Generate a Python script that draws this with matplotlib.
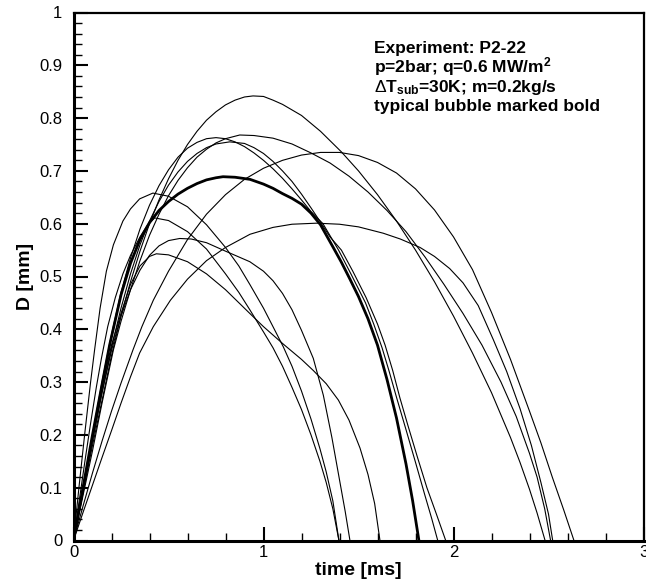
import matplotlib
matplotlib.use('Agg')
import matplotlib.pyplot as plt
from matplotlib.ticker import MultipleLocator

plt.rcParams['font.family'] = ['Liberation Sans', 'DejaVu Sans']
plt.rcParams['mathtext.fontset'] = 'custom'
plt.rcParams['mathtext.rm'] = 'Liberation Sans'
plt.rcParams['mathtext.bf'] = 'Liberation Sans:bold'
plt.rcParams['mathtext.it'] = 'Liberation Sans:italic'

# bubble diameter histories (time in ms, D in mm)
t_a = [0, 0.05, 0.1, 0.15, 0.2, 0.25, 0.3, 0.35, 0.4, 0.45, 0.5, 0.55, 0.6, 0.65, 0.7, 0.75, 0.8, 0.85, 0.9,
       0.945, 1.0, 1.05, 1.1, 1.2, 1.3, 1.41, 1.5, 1.6, 1.7, 1.8, 1.9, 2.0, 2.1, 2.2, 2.3, 2.35, 2.4, 2.44, 2.482]
d_a = [0, 0.09, 0.18, 0.265, 0.35, 0.425, 0.49, 0.548, 0.6, 0.645, 0.685, 0.72, 0.75, 0.775, 0.796, 0.812, 0.825,
       0.834, 0.84, 0.842, 0.841, 0.834, 0.826, 0.805, 0.775, 0.736, 0.70, 0.655, 0.605, 0.55, 0.49, 0.425, 0.355,
       0.28, 0.195, 0.148, 0.097, 0.052, 0]

t_b = [0, 0.05, 0.1, 0.15, 0.21, 0.25, 0.3, 0.35, 0.4, 0.45, 0.5, 0.55, 0.6, 0.65, 0.7, 0.75, 0.8, 0.875, 0.95,
       1.05, 1.15, 1.25, 1.35, 1.45, 1.55, 1.65, 1.75, 1.85, 1.95, 2.05, 2.15, 2.25, 2.33, 2.4, 2.44, 2.48, 2.511]
d_b = [0, 0.085, 0.17, 0.26, 0.361, 0.415, 0.475, 0.53, 0.578, 0.618, 0.653, 0.682, 0.706, 0.726, 0.741, 0.753,
       0.761, 0.768, 0.767, 0.762, 0.751, 0.734, 0.715, 0.69, 0.66, 0.625, 0.585, 0.537, 0.485, 0.43, 0.37, 0.3,
       0.235, 0.165, 0.12, 0.06, 0]

t_c = [0, 0.05, 0.1, 0.15, 0.2, 0.25, 0.3, 0.35, 0.4, 0.45, 0.5, 0.55, 0.6, 0.65, 0.7, 0.75, 0.8, 0.85, 0.9, 0.95,
       1.0, 1.05, 1.1, 1.15, 1.2, 1.25, 1.313, 1.395, 1.46, 1.537, 1.58, 1.624, 1.66, 1.701, 1.75, 1.8, 1.85,
       1.885, 1.917]
d_c = [0, 0.1, 0.2, 0.3, 0.39, 0.47, 0.535, 0.59, 0.635, 0.672, 0.702, 0.726, 0.743, 0.754, 0.761, 0.763, 0.761,
       0.755, 0.746, 0.734, 0.72, 0.704, 0.686, 0.666, 0.645, 0.623, 0.6, 0.55, 0.505, 0.45, 0.41, 0.365, 0.322,
       0.27, 0.21, 0.148, 0.085, 0.042, 0]

t_d = [0, 0.05, 0.1, 0.15, 0.2, 0.25, 0.3, 0.35, 0.4, 0.45, 0.5, 0.55, 0.6, 0.65, 0.7, 0.75, 0.822, 0.9, 0.95, 1.0,
       1.05, 1.1, 1.15, 1.2, 1.25, 1.3, 1.35, 1.41, 1.47, 1.54, 1.6, 1.64, 1.68, 1.718, 1.76, 1.81, 1.86, 1.91, 1.959]
d_d = [0, 0.095, 0.19, 0.28, 0.365, 0.44, 0.505, 0.56, 0.605, 0.642, 0.673, 0.698, 0.718, 0.733, 0.744, 0.751,
       0.755, 0.752, 0.744, 0.733, 0.718, 0.70, 0.68, 0.656, 0.63, 0.603, 0.575, 0.55, 0.51, 0.46, 0.41, 0.37,
       0.322, 0.27, 0.218, 0.158, 0.1, 0.05, 0]

t_e = [0, 0.05, 0.1, 0.15, 0.2, 0.25, 0.313, 0.36, 0.42, 0.5, 0.6, 0.7, 0.8, 0.9, 1.0, 1.1, 1.2, 1.3, 1.4, 1.5,
       1.6, 1.7, 1.8, 1.9, 2.0, 2.1, 2.2, 2.3, 2.4, 2.46, 2.52, 2.58, 2.634]
d_e = [0, 0.065, 0.128, 0.188, 0.245, 0.298, 0.361, 0.405, 0.455, 0.51, 0.57, 0.618, 0.655, 0.684, 0.705, 0.72,
       0.73, 0.735, 0.735, 0.729, 0.716, 0.696, 0.666, 0.626, 0.575, 0.513, 0.432, 0.343, 0.245, 0.185, 0.12,
       0.058, 0]

t_i = [0, 0.05, 0.1, 0.15, 0.2, 0.25, 0.3, 0.348, 0.42, 0.51, 0.6, 0.7, 0.8, 0.929, 1.05, 1.15, 1.28, 1.4, 1.5,
       1.63, 1.72, 1.824, 1.9, 1.98, 2.05, 2.13, 2.21, 2.28, 2.35, 2.41, 2.46, 2.5, 2.522]
d_i = [0, 0.053, 0.105, 0.157, 0.208, 0.26, 0.31, 0.355, 0.405, 0.455, 0.495, 0.53, 0.555, 0.58, 0.593, 0.599,
       0.601, 0.599, 0.594, 0.582, 0.571, 0.555, 0.538, 0.515, 0.488, 0.445, 0.38, 0.32, 0.25, 0.18, 0.11, 0.05, 0]

t_g = [0, 0.03, 0.06, 0.09, 0.111, 0.14, 0.173, 0.21, 0.26, 0.3, 0.348, 0.418, 0.5, 0.6, 0.7, 0.8, 0.87, 0.928,
       1.0, 1.05, 1.104, 1.15, 1.2, 1.25, 1.297, 1.33, 1.365, 1.397]
d_g = [0, 0.105, 0.205, 0.3, 0.361, 0.44, 0.51, 0.56, 0.605, 0.628, 0.647, 0.658, 0.652, 0.632, 0.598, 0.555,
       0.52, 0.485, 0.44, 0.405, 0.367, 0.33, 0.283, 0.23, 0.174, 0.13, 0.075, 0]

t_h = [0, 0.03, 0.06, 0.09, 0.12, 0.147, 0.18, 0.22, 0.26, 0.3, 0.35, 0.39, 0.427, 0.5, 0.6, 0.7, 0.8, 0.87,
       0.928, 1.0, 1.05, 1.1, 1.15, 1.2, 1.25, 1.297, 1.33, 1.365, 1.397]
d_h = [0, 0.075, 0.15, 0.222, 0.29, 0.345, 0.405, 0.46, 0.505, 0.54, 0.575, 0.598, 0.611, 0.606, 0.585, 0.552,
       0.505, 0.47, 0.437, 0.395, 0.365, 0.33, 0.29, 0.248, 0.2, 0.15, 0.11, 0.06, 0]

t_j = [0, 0.05, 0.1, 0.15, 0.2, 0.25, 0.3, 0.35, 0.4, 0.45, 0.5, 0.559, 0.62, 0.7, 0.8, 0.928, 1.0, 1.05, 1.1,
       1.15, 1.2, 1.262, 1.315, 1.36, 1.4, 1.43, 1.455]
d_j = [0, 0.095, 0.19, 0.28, 0.36, 0.425, 0.475, 0.512, 0.54, 0.558, 0.568, 0.572, 0.571, 0.564, 0.548, 0.528,
       0.51, 0.492, 0.468, 0.437, 0.398, 0.345, 0.275, 0.195, 0.115, 0.055, 0]

t_k = [0, 0.05, 0.1, 0.15, 0.2, 0.25, 0.3, 0.35, 0.4, 0.436, 0.5, 0.6, 0.7, 0.8, 0.928, 1.0, 1.104, 1.2, 1.262,
       1.33, 1.394, 1.45, 1.508, 1.55, 1.585, 1.613]
d_k = [0, 0.1, 0.2, 0.29, 0.37, 0.43, 0.485, 0.52, 0.538, 0.543, 0.541, 0.528, 0.505, 0.475, 0.43, 0.405, 0.372,
       0.343, 0.322, 0.297, 0.266, 0.228, 0.175, 0.125, 0.07, 0]

# the typical bubble, drawn bold
t_bold = [0, 0.05, 0.1, 0.15, 0.19, 0.25, 0.3, 0.35, 0.4, 0.45, 0.5, 0.55, 0.6, 0.65, 0.7, 0.75, 0.787, 0.85,
          0.929, 1.0, 1.05, 1.1, 1.15, 1.2, 1.25, 1.3, 1.367, 1.41, 1.455, 1.5, 1.55, 1.6, 1.65, 1.7, 1.75,
          1.785, 1.818]
d_bold = [0, 0.1, 0.2, 0.295, 0.37, 0.465, 0.525, 0.57, 0.602, 0.625, 0.642, 0.656, 0.667, 0.676, 0.683, 0.687,
          0.689, 0.688, 0.684, 0.675, 0.667, 0.657, 0.648, 0.637, 0.62, 0.598, 0.555, 0.527, 0.495, 0.462, 0.42,
          0.37, 0.305, 0.232, 0.145, 0.075, 0]

thin_curves = [(t_a, d_a), (t_b, d_b), (t_c, d_c), (t_d, d_d), (t_e, d_e),
               (t_i, d_i), (t_g, d_g), (t_h, d_h), (t_j, d_j), (t_k, d_k)]

info_lines = ['Experiment: P2-22',
              r'p=2bar; q=0.6 MW/m$^{\mathbf{2}}$',
              r'$\Delta$T$_{\mathbf{sub}}$=30K; m=0.2kg/s',
              'typical bubble marked bold']

fig = plt.figure(figsize=(6.46, 5.88), dpi=100)
ax = fig.add_axes([73.5 / 646, 47.5 / 588, 570 / 646, 528 / 588])

for t, d in thin_curves:
    ax.plot(t, d, color='black', lw=0.8, solid_joinstyle='round')
ax.plot(t_bold, d_bold, color='black', lw=2.0, solid_joinstyle='round')

ax.set_xlim(0, 3)
ax.set_ylim(0, 1)
ax.xaxis.set_minor_locator(MultipleLocator(0.2))
ax.yaxis.set_minor_locator(MultipleLocator(0.02))
ax.set_yticks([0, 0.1, 0.2, 0.3, 0.4, 0.5, 0.6, 0.7, 0.8, 0.9, 1.0])
ax.set_yticklabels(['0', '0.1', '0.2', '0.3', '0.4', '0.5', '0.6', '0.7', '0.8', '0.9', '1'])
ax.set_xticks([0, 1, 2, 3])
ax.set_xticklabels(['0', '1', '2', '3'])

ax.tick_params(which='both', direction='in', top=False, right=False, labelsize=12)
ax.tick_params(which='major', length=10, width=1.5)
ax.tick_params(which='minor', length=6, width=1.0)
ax.tick_params(axis='x', pad=3)
ax.tick_params(axis='y', pad=8)

ax.spines['left'].set_linewidth(2.2)
ax.spines['bottom'].set_linewidth(2.2)
ax.spines['top'].set_linewidth(1.6)
ax.spines['right'].set_linewidth(1.6)

ax.set_xlabel('time [ms]', fontsize=14, fontweight='bold', labelpad=2)
ax.set_ylabel('D [mm]', fontsize=14, fontweight='bold', labelpad=4)

for k, line in enumerate(info_lines):
    ax.text(1.582, 0.923 - k * 0.0368, line, fontsize=12.5, fontweight='bold',
            ha='left', va='baseline')

fig.savefig('out.png', dpi=100)
